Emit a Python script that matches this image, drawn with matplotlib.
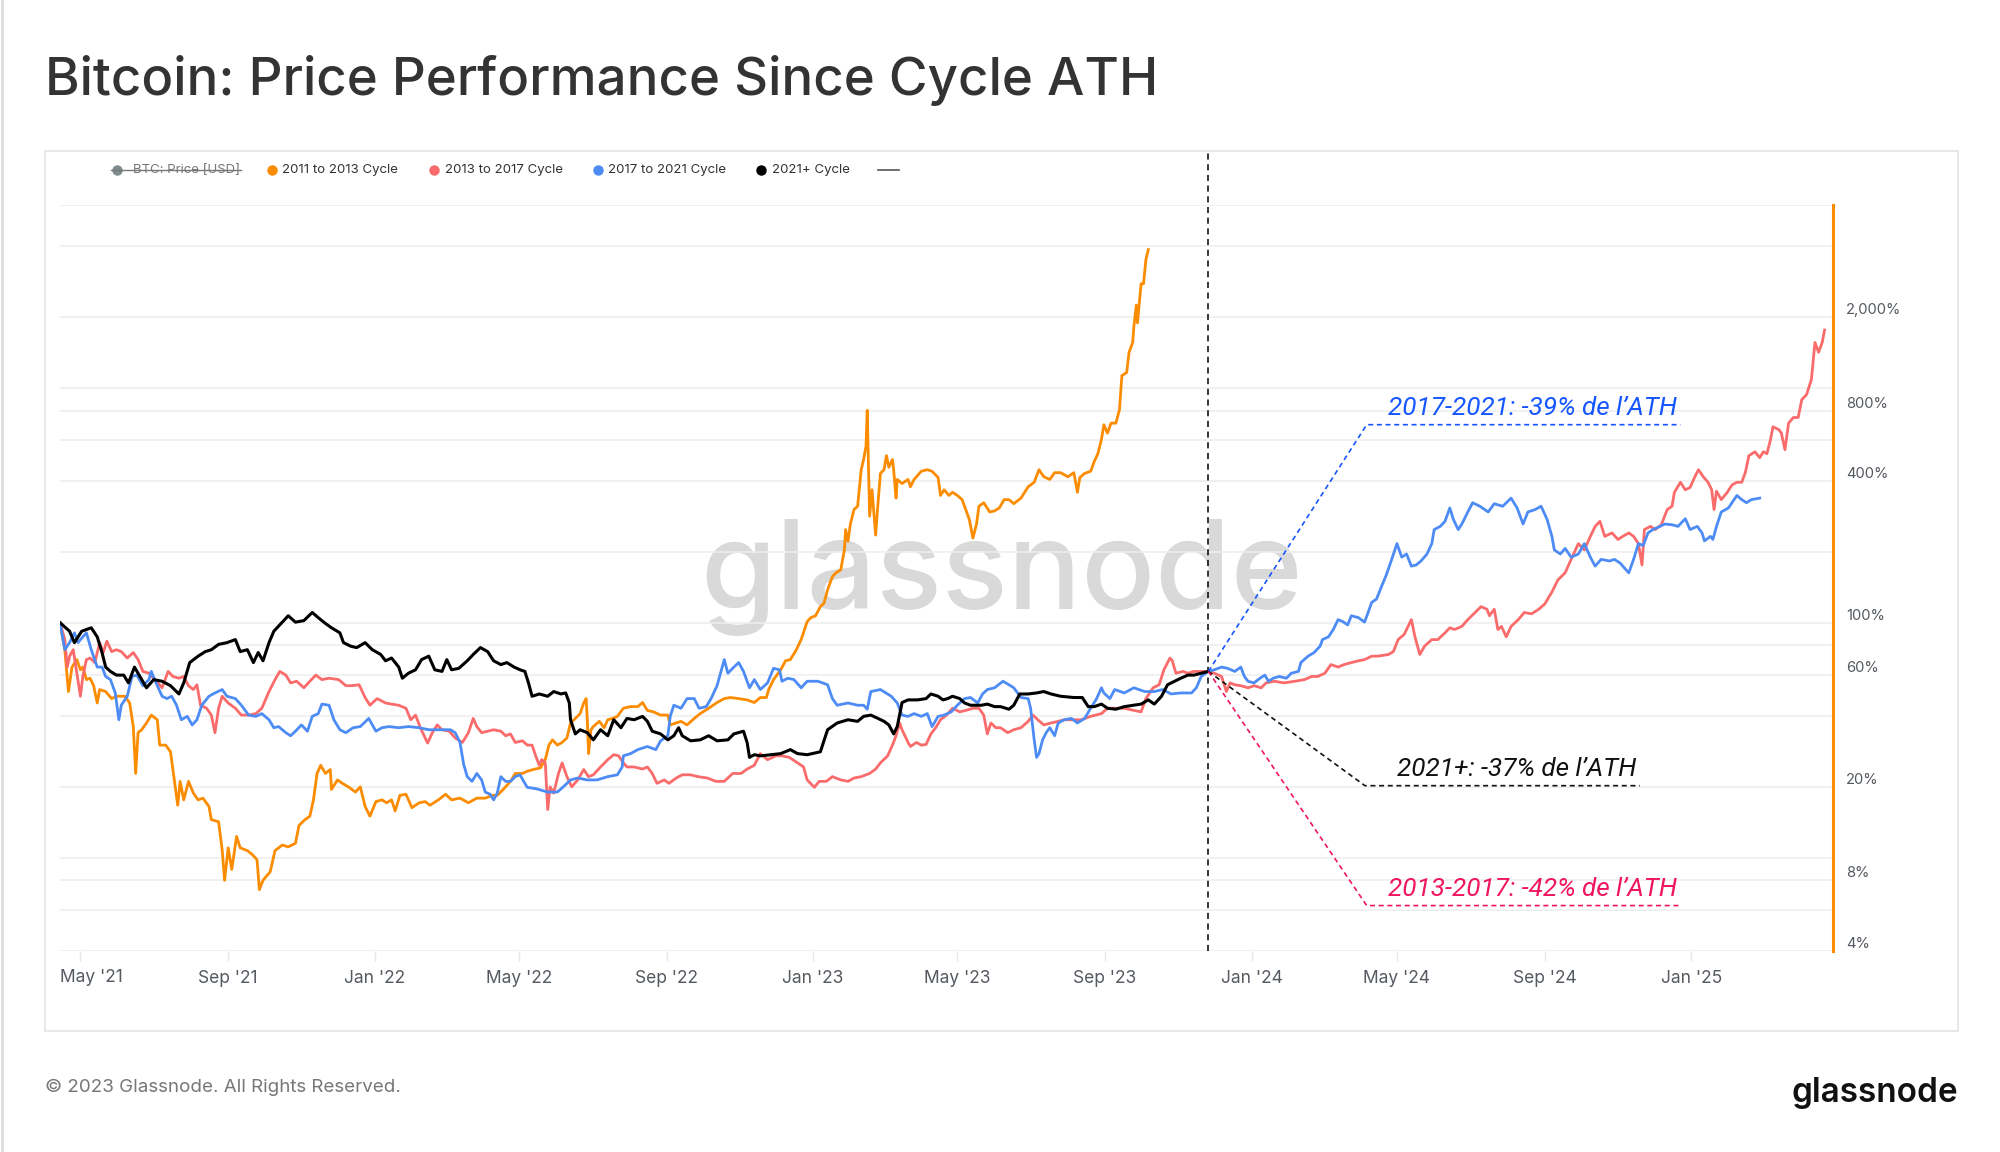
import matplotlib
matplotlib.use("Agg")
import matplotlib.pyplot as plt
import matplotlib.dates as mdates
from matplotlib.lines import Line2D
from matplotlib.patches import Rectangle
from datetime import datetime
import numpy as np

plt.rcParams['font.family'] = ['Inter', 'DejaVu Sans']

# ---- data: (days since cycle ATH, % of ATH) ----
ath_date = datetime(2021, 4, 14)

cycle_2011 = [
    (0, 100), (4, 76.7), (7, 50.9), (10, 64.7), (14, 69.6), (17, 63.0), (19, 64.7), (22, 57.2),
    (25, 58.0), (28, 53.9), (31, 45.5), (33, 51.9), (38, 50.9), (43, 47.5), (47, 48.6), (54, 48.6),
    (58, 45.5), (61, 36.1), (63, 22.8), (65, 34.0), (68, 35.0), (72, 37.4), (76, 40.4), (81, 38.6),
    (83, 30.1), (88, 30.1), (92, 28.2), (94, 23.7), (98, 16.7), (100, 21.1), (103, 17.6), (107, 21.1),
    (111, 18.8), (115, 17.6), (119, 17.9), (124, 16.5), (126, 14.5), (132, 14.2), (135, 10.8),
    (137, 8.0), (140, 11.0), (143, 8.9), (147, 12.3), (150, 11.0), (156, 10.7), (160, 10.3),
    (164, 9.8), (166, 7.3), (169, 8.0), (175, 8.7), (179, 10.7), (185, 11.3), (190, 11.1),
    (196, 11.5), (199, 13.7), (204, 14.5), (208, 15.0), (211, 17.6), (214, 22.8), (217, 24.7),
    (221, 22.8), (225, 23.7), (226, 19.5), (231, 21.4), (235, 20.7), (240, 20.0), (246, 19.0),
    (250, 20.0), (254, 16.5), (258, 15.0), (263, 17.3), (268, 17.6), (272, 17.1), (276, 17.6),
    (279, 15.8), (283, 18.4), (288, 18.6), (293, 16.3), (299, 17.1), (304, 17.3), (308, 16.7),
    (315, 17.6), (321, 18.6), (326, 17.6), (333, 17.9), (340, 17.1), (347, 17.9), (354, 17.9),
    (360, 18.4), (364, 18.4), (369, 19.5), (375, 21.1), (379, 22.8), (385, 22.8), (389, 23.3),
    (394, 23.7), (400, 24.1), (404, 26.1), (407, 30.1), (410, 31.7), (414, 30.1), (418, 30.9),
    (422, 32.3), (425, 37.4), (429, 39.1), (433, 41.0), (436, 45.5), (438, 47.5), (439, 38.6),
    (440, 27.7), (442, 35.0), (444, 36.1), (449, 38.0), (453, 35.7), (456, 38.6), (460, 39.1),
    (464, 39.9), (469, 43.2), (475, 43.9), (481, 43.9), (485, 45.7), (489, 42.3), (494, 41.7),
    (500, 40.4), (506, 40.4), (508, 36.7), (513, 37.4), (517, 38.0), (522, 36.7), (528, 39.1),
    (533, 41.0), (540, 43.2), (547, 45.7), (553, 47.5), (558, 48.0), (565, 47.5), (572, 46.9),
    (578, 45.7), (583, 48.0), (588, 48.0), (590, 51.9), (594, 57.2), (600, 63.0), (604, 68.8),
    (608, 69.6), (613, 76.7), (617, 84.7), (622, 101), (625, 105), (629, 107), (633, 117),
    (636, 121), (639, 138), (643, 157), (646, 163), (650, 168), (653, 204), (654, 249), (656, 222),
    (658, 263), (661, 303), (664, 313), (667, 448), (669, 495), (671, 565), (672, 801), (674, 284),
    (676, 368), (679, 236), (681, 324), (683, 432), (686, 448), (688, 514), (690, 459), (693, 495),
    (694, 448), (696, 339), (697, 407), (701, 391), (706, 407), (708, 379), (711, 407), (717, 441),
    (722, 448), (726, 441), (731, 415), (733, 348), (736, 368), (740, 348), (743, 359), (747, 348),
    (751, 334), (754, 303), (757, 275), (760, 229), (763, 263), (765, 313), (769, 324), (774, 296),
    (778, 299), (782, 308), (786, 334), (790, 334), (794, 321), (800, 339), (806, 379), (811, 396),
    (815, 448), (819, 418), (824, 407), (828, 435), (833, 435), (839, 418), (844, 435), (847, 359),
    (849, 415), (853, 432), (858, 441), (861, 485), (864, 524), (867, 602), (869, 696), (872, 641),
    (875, 707), (879, 707), (882, 807), (884, 1126), (888, 1162), (890, 1416), (893, 1559),
    (894, 1824), (896, 2250), (897, 1889), (899, 2442), (900, 2772), (902, 2772), (904, 3513),
    (906, 3875),
]

cycle_2013 = [
    (0, 100), (4, 84.7), (6, 64.7), (8, 72.0), (11, 76.7), (14, 60.9), (17, 48.6), (19, 59.0),
    (22, 69.6), (25, 70.7), (29, 67.6), (33, 82.2), (36, 74.6), (39, 83.4), (43, 75.3), (47, 76.7),
    (51, 75.3), (56, 70.7), (61, 74.6), (65, 69.6), (69, 62.0), (74, 60.9), (79, 57.2), (85, 52.8),
    (90, 62.0), (94, 59.0), (99, 58.0), (103, 59.0), (107, 53.9), (111, 51.9), (114, 54.4),
    (117, 44.5), (122, 43.2), (126, 40.4), (129, 34.0), (132, 43.2), (135, 48.6), (140, 45.5),
    (146, 43.2), (151, 40.4), (157, 40.4), (163, 41.0), (168, 43.2), (174, 50.9), (179, 57.2),
    (183, 62.0), (188, 59.8), (192, 55.4), (197, 56.3), (203, 52.8), (208, 56.3), (213, 59.8),
    (218, 57.2), (224, 58.0), (232, 57.2), (238, 53.9), (243, 53.9), (249, 54.4), (254, 48.0),
    (258, 44.5), (264, 47.5), (271, 45.5), (276, 45.0), (282, 44.5), (288, 43.2), (292, 38.6),
    (296, 40.4), (300, 35.7), (306, 30.7), (310, 34.0), (314, 36.7), (318, 35.0), (324, 34.5),
    (329, 32.3), (335, 30.9), (340, 34.0), (344, 39.1), (347, 36.1), (351, 34.0), (356, 34.5),
    (361, 35.0), (367, 34.5), (371, 33.0), (375, 33.6), (379, 30.9), (385, 31.4), (389, 30.1),
    (393, 30.1), (396, 27.1), (399, 24.7), (401, 26.1), (404, 25.3), (406, 16.0), (408, 20.0),
    (411, 18.8), (415, 22.8), (418, 25.3), (422, 22.1), (426, 20.0), (431, 21.4), (436, 23.7),
    (440, 22.1), (444, 22.5), (450, 24.3), (456, 26.1), (461, 27.4), (465, 27.1), (469, 25.3),
    (472, 24.3), (478, 24.3), (485, 23.8), (489, 24.3), (493, 22.8), (497, 20.7), (503, 21.4),
    (507, 20.7), (513, 21.8), (518, 22.5), (525, 22.5), (531, 22.1), (539, 21.8), (546, 21.1),
    (553, 21.1), (560, 22.8), (567, 22.8), (572, 23.8), (578, 24.7), (583, 27.7), (589, 26.1),
    (596, 27.1), (601, 27.1), (607, 26.7), (614, 25.3), (619, 24.3), (622, 21.4), (628, 19.9),
    (632, 21.1), (638, 21.1), (643, 22.1), (650, 21.4), (656, 21.1), (661, 21.8), (667, 22.1),
    (674, 22.8), (679, 23.8), (683, 25.3), (689, 27.1), (693, 30.1), (696, 33.0), (699, 37.4),
    (701, 35.0), (706, 30.9), (708, 29.7), (713, 30.9), (717, 30.1), (721, 30.3), (725, 33.6),
    (729, 35.7), (733, 38.6), (738, 40.4), (743, 43.2), (749, 41.7), (754, 42.3), (760, 43.2),
    (765, 43.2), (769, 40.4), (772, 33.6), (775, 37.4), (779, 35.7), (783, 35.7), (789, 34.0),
    (794, 35.0), (800, 35.7), (806, 38.0), (810, 40.4), (814, 38.6), (819, 36.7), (825, 37.4),
    (831, 38.0), (836, 38.6), (842, 38.6), (850, 38.6), (858, 39.9), (867, 41.0), (872, 43.2),
    (878, 43.2), (886, 43.2), (894, 42.3), (900, 41.7), (904, 47.5), (910, 52.8), (915, 54.4),
    (919, 63.0), (924, 70.7), (926, 68.8), (929, 60.9), (935, 62.0), (939, 60.9), (944, 62.0),
    (950, 62.0), (956, 62.0), (961, 60.9), (967, 59.0), (971, 50.9), (974, 55.4), (978, 54.4),
    (983, 53.9), (989, 52.8), (994, 53.9), (1000, 52.8), (1004, 55.4), (1011, 56.3), (1019, 55.4),
    (1028, 56.3), (1036, 57.2), (1042, 59.0), (1047, 59.0), (1053, 60.9), (1058, 66.3),
    (1064, 64.7), (1069, 66.3), (1075, 67.6), (1081, 68.8), (1086, 69.6), (1092, 72.0),
    (1097, 72.0), (1106, 73.2), (1110, 75.3), (1114, 84.7), (1119, 89.1), (1125, 103), (1128, 87.0),
    (1132, 73.2), (1136, 79.4), (1142, 84.7), (1147, 84.7), (1153, 90.5), (1157, 95.1), (1161, 93.5),
    (1167, 96.4), (1172, 103), (1178, 110.5), (1183, 117), (1188, 114), (1190, 107), (1194, 114),
    (1197, 93.5), (1200, 96.4), (1204, 87.0), (1208, 96.4), (1214, 103), (1219, 110.5), (1225, 109),
    (1231, 114), (1236, 120), (1242, 135), (1247, 152), (1253, 163), (1258, 186), (1264, 217),
    (1269, 204), (1274, 233), (1278, 257), (1282, 270), (1286, 233), (1292, 241), (1297, 226),
    (1301, 233), (1306, 241), (1310, 233), (1314, 217), (1317, 176), (1319, 249), (1324, 257),
    (1328, 249), (1333, 261), (1338, 303), (1342, 313), (1344, 359), (1349, 396), (1353, 368),
    (1357, 376), (1361, 418), (1364, 448), (1368, 418), (1372, 396), (1375, 368), (1377, 303),
    (1379, 363), (1383, 334), (1388, 359), (1392, 386), (1396, 396), (1400, 396), (1403, 435),
    (1406, 514), (1411, 534), (1415, 504), (1418, 534), (1421, 524), (1424, 602), (1426, 682),
    (1431, 663), (1433, 641), (1436, 545), (1439, 707), (1443, 747), (1447, 747), (1450, 890),
    (1454, 935), (1458, 1084), (1461, 1559), (1464, 1416), (1467, 1559), (1469, 1761),
]

cycle_2017 = [
    (0, 100), (4, 76.7), (8, 82.2), (12, 90.5), (15, 82.2), (19, 87.0), (22, 90.5), (26, 76.7),
    (31, 64.7), (35, 64.7), (38, 59.0), (42, 57.2), (46, 50.2), (49, 38.6), (51, 44.5), (56, 48.6),
    (60, 59.0), (64, 59.8), (69, 53.9), (74, 57.2), (76, 62.0), (81, 53.9), (85, 48.6), (89, 47.5),
    (93, 48.6), (97, 44.5), (101, 38.6), (106, 39.9), (110, 36.7), (114, 38.6), (118, 44.5),
    (124, 48.6), (129, 50.2), (135, 51.9), (139, 48.6), (146, 47.5), (151, 44.5), (157, 40.4),
    (163, 39.9), (168, 41.0), (174, 38.6), (178, 35.7), (182, 36.1), (188, 34.0), (192, 33.0),
    (196, 34.5), (201, 36.7), (206, 34.5), (210, 39.9), (215, 41.0), (218, 45.0), (224, 44.5),
    (228, 38.6), (233, 35.0), (238, 34.0), (244, 35.7), (250, 36.1), (257, 39.1), (263, 34.5),
    (268, 35.7), (274, 36.1), (282, 35.7), (290, 36.1), (299, 35.7), (307, 35.0), (315, 35.0),
    (325, 35.0), (329, 34.0), (333, 30.9), (336, 25.0), (339, 22.1), (343, 21.1), (347, 22.8),
    (351, 21.4), (354, 19.0), (358, 18.6), (361, 17.6), (364, 18.8), (367, 22.1), (371, 21.1),
    (375, 21.1), (379, 22.1), (383, 22.5), (386, 21.1), (389, 19.9), (397, 19.6), (406, 19.0),
    (414, 19.0), (419, 20.0), (425, 21.4), (431, 21.8), (439, 21.4), (447, 21.4), (456, 22.1),
    (464, 22.5), (468, 24.3), (469, 27.1), (475, 27.7), (481, 28.8), (489, 29.7), (496, 28.8),
    (500, 31.4), (506, 33.0), (508, 39.9), (511, 44.5), (517, 43.2), (522, 47.5), (528, 47.5),
    (532, 43.2), (538, 43.9), (542, 47.5), (547, 53.9), (553, 69.6), (556, 60.9), (561, 64.7),
    (565, 67.6), (569, 62.0), (574, 52.8), (578, 57.2), (583, 51.9), (589, 55.4), (594, 63.9),
    (599, 63.0), (601, 56.3), (606, 58.0), (611, 57.2), (617, 52.8), (622, 56.3), (631, 56.3),
    (639, 54.4), (643, 47.5), (647, 44.5), (656, 45.5), (664, 44.5), (669, 44.5), (672, 42.8),
    (675, 50.9), (683, 51.9), (692, 48.6), (697, 45.5), (701, 40.4), (706, 39.9), (711, 41.0),
    (717, 39.9), (722, 41.0), (726, 36.1), (731, 39.9), (736, 40.4), (742, 41.7), (747, 44.5),
    (753, 47.5), (758, 48.0), (764, 45.5), (768, 49.7), (772, 51.9), (778, 52.8), (785, 56.3),
    (790, 54.4), (794, 52.8), (800, 48.0), (806, 47.5), (808, 43.2), (811, 31.7), (813, 26.7),
    (815, 27.7), (818, 31.7), (821, 34.0), (824, 35.7), (828, 33.0), (831, 37.4), (836, 38.6),
    (842, 39.1), (847, 37.4), (853, 39.1), (858, 43.2), (863, 47.5), (867, 52.8), (869, 50.2),
    (874, 47.5), (878, 51.9), (886, 50.2), (894, 52.8), (903, 50.9), (911, 50.9), (918, 51.9),
    (925, 49.7), (933, 50.2), (942, 50.2), (946, 52.8), (950, 59.0), (956, 62.0), (961, 63.0),
    (967, 64.7), (972, 63.9), (978, 62.0), (983, 64.7), (986, 59.0), (989, 56.3), (994, 55.4),
    (999, 58.0), (1003, 59.8), (1006, 56.3), (1010, 58.0), (1015, 59.0), (1021, 58.0), (1025, 60.9),
    (1031, 62.0), (1033, 67.6), (1039, 72.0), (1044, 74.6), (1049, 79.4), (1051, 84.7), (1056, 87.0),
    (1060, 93.5), (1064, 103), (1068, 101), (1072, 97.8), (1075, 107), (1081, 105), (1086, 100.5),
    (1089, 110.5), (1092, 122), (1096, 126), (1100, 142), (1104, 159), (1108, 182), (1113, 217),
    (1117, 190), (1121, 196), (1125, 174), (1129, 176), (1133, 183), (1138, 196), (1142, 217),
    (1144, 249), (1149, 257), (1153, 270), (1157, 308), (1160, 275), (1164, 249), (1167, 263),
    (1172, 296), (1176, 324), (1182, 313), (1189, 296), (1194, 321), (1201, 313), (1208, 339),
    (1213, 308), (1218, 263), (1222, 296), (1228, 303), (1233, 313), (1238, 275), (1242, 233),
    (1244, 204), (1249, 196), (1253, 207), (1258, 190), (1264, 196), (1269, 217), (1274, 190),
    (1278, 174), (1283, 186), (1290, 183), (1294, 186), (1299, 179), (1301, 174), (1306, 163),
    (1310, 186), (1314, 217), (1318, 213), (1322, 241), (1326, 249), (1332, 257), (1336, 263),
    (1342, 261), (1347, 257), (1353, 277), (1357, 249), (1363, 257), (1367, 241), (1369, 223),
    (1374, 233), (1376, 226), (1379, 257), (1383, 296), (1389, 308), (1396, 348), (1400, 334),
    (1404, 324), (1408, 334), (1415, 339),
]

cycle_2021 = [
    (0, 100), (8, 91.9), (12, 82.2), (18, 91.9), (26, 95.1), (31, 87.0), (35, 74.6), (38, 64.7),
    (42, 62.0), (47, 59.8), (53, 59.8), (57, 55.4), (62, 64.7), (68, 57.2), (72, 52.8), (78, 57.2),
    (85, 56.3), (92, 53.9), (99, 49.7), (103, 55.4), (108, 67.6), (115, 72.0), (121, 75.3),
    (126, 76.7), (132, 80.8), (139, 82.2), (146, 84.7), (150, 75.3), (156, 76.7), (161, 67.6),
    (165, 74.6), (169, 68.8), (174, 82.2), (178, 91.9), (185, 100.5), (190, 107), (196, 100.5),
    (203, 102), (210, 110.5), (215, 105), (221, 99.2), (226, 95.1), (233, 90.5), (236, 82.2),
    (242, 79.4), (247, 78.3), (254, 82.2), (260, 76.7), (267, 73.2), (271, 68.8), (276, 70.7),
    (282, 64.7), (285, 58.0), (290, 60.9), (296, 63.0), (301, 69.6), (307, 72.0), (312, 63.0),
    (318, 62.0), (322, 69.6), (326, 63.0), (332, 63.9), (339, 68.8), (344, 73.2), (350, 78.3),
    (356, 75.3), (361, 68.8), (367, 66.3), (372, 67.6), (378, 64.7), (383, 63.0), (387, 62.0),
    (390, 55.4), (393, 48.6), (399, 49.7), (406, 48.6), (411, 50.9), (417, 49.7), (421, 50.2),
    (424, 45.5), (425, 38.6), (429, 33.6), (433, 35.0), (439, 34.0), (444, 31.7), (450, 35.0),
    (456, 33.0), (461, 38.6), (467, 35.7), (472, 39.1), (478, 38.6), (485, 39.9), (489, 38.0),
    (493, 34.5), (500, 33.6), (506, 31.7), (511, 33.0), (515, 35.7), (518, 33.0), (525, 31.4),
    (533, 31.7), (540, 33.0), (547, 31.4), (556, 31.7), (561, 33.6), (569, 34.5), (572, 30.9),
    (574, 26.7), (578, 27.4), (583, 27.1), (592, 27.4), (600, 27.7), (608, 28.8), (614, 27.7),
    (622, 27.4), (633, 28.2), (639, 35.0), (647, 37.4), (656, 38.6), (664, 38.0), (669, 39.9),
    (675, 40.4), (681, 39.1), (686, 38.0), (690, 36.7), (694, 33.6), (697, 36.1), (701, 45.7),
    (706, 46.9), (714, 46.9), (721, 47.5), (725, 49.7), (731, 48.6), (735, 46.9), (739, 47.5),
    (743, 48.6), (749, 47.5), (753, 45.5), (758, 44.5), (767, 44.5), (772, 45.0), (778, 43.9),
    (783, 43.9), (790, 42.8), (794, 44.5), (799, 49.7), (806, 49.7), (813, 50.2), (819, 50.9),
    (825, 49.7), (833, 48.6), (844, 48.0), (851, 48.0), (856, 43.9), (861, 43.9), (867, 45.0),
    (872, 43.2), (879, 42.8), (886, 43.9), (894, 44.5), (900, 45.0), (906, 46.9), (911, 45.0),
    (917, 48.6), (922, 54.4), (928, 56.3), (933, 58.0), (939, 59.8), (944, 59.8), (950, 60.9),
    (956, 62.0),
]

series_names = ['2011 to 2013 Cycle', '2013 to 2017 Cycle', '2017 to 2021 Cycle', '2021+ Cycle']
series_colors = ['#fb8c00', '#fa6b6b', '#4d8bf5', '#000000']

# axis labels / grid levels (% of ATH)
grid_levels = [4, 6, 8, 10, 20, 40, 60, 80, 100, 200, 400, 600, 800, 1000, 2000, 4000, 6000]
label_levels = [4, 8, 20, 60, 100, 400, 800, 2000]

# annotations: (text, colour, elbow axes-x, elbow axes-y, end axes-x)
notes = [
    ("2017-2021: -39% de l\u2019ATH", '#1556ff', 0.737, 0.7055, 0.914),
    ("2021+: -37% de l\u2019ATH", '#111111', 0.736, 0.2216, 0.891),
    ("2013-2017: -42% de l\u2019ATH", '#ef1560', 0.737, 0.0609, 0.914),
]

W, H = 2000, 1152


def fx(px):
    return px / W


def fy(py):
    return 1 - py / H


fig = plt.figure(figsize=(20, 11.52), dpi=100)
fig.patch.set_facecolor('white')

# outer chart box + left page edge
fig.add_artist(Rectangle((fx(45), fy(1031)), fx(1958) - fx(45), fy(151) - fy(1031),
                         transform=fig.transFigure, fill=False, edgecolor='#e4e4e4', lw=1.2))
fig.add_artist(Line2D([0.0008, 0.0008], [0, 1], transform=fig.transFigure, color='#dddddd', lw=2))

ax = fig.add_axes([fx(60), fy(951), fx(1833) - fx(60), fy(205) - fy(951)])
ax.set_facecolor('none')

start = mdates.date2num(ath_date)
all_series = [cycle_2011, cycle_2013, cycle_2017, cycle_2021]
for data, col, name in zip(all_series, series_colors, series_names):
    days, vals = zip(*data)
    lw = 2.2 if col == '#000000' else 2.0
    ax.plot(start + np.array(days), vals, color=col, lw=lw, label=name, zorder=3,
            solid_joinstyle='round')

ax.set_yscale('log')
ax.set_ylim(4, 6000)
ax.set_xlim(start, start + 1476)
ax.set_yticks(grid_levels)
ax.yaxis.set_minor_locator(matplotlib.ticker.NullLocator())
ax.grid(axis='y', color='#eeeeee', lw=1.1, zorder=0)
ax.tick_params(axis='y', length=0, labelleft=False)
for s in ax.spines.values():
    s.set_visible(False)

ax.xaxis_date()
ax.xaxis.set_major_locator(mdates.MonthLocator(bymonth=(1, 5, 9)))
ax.xaxis.set_major_formatter(mdates.DateFormatter("%b '%y"))
ax.tick_params(axis='x', length=7, width=1, color='#e6e6e6', pad=6.5,
               labelsize=12.5, labelcolor='#555a60')

# right axis: orange line and labels sitting above their grid levels
ax.add_line(Line2D([1.0, 1.0], [0, 1], transform=ax.transAxes, color='#fb8c00',
                   lw=2.2, clip_on=False))
lab_tr = matplotlib.transforms.blended_transform_factory(ax.transAxes, ax.transData)
lab_off = matplotlib.transforms.ScaledTranslation(0, 3 / 100, fig.dpi_scale_trans)
for v in label_levels:
    ax.text(1.0073, v, f"{v:,}%", transform=lab_tr + lab_off,
            ha='left', va='baseline', fontsize=10.6, color='#555a60')

# watermark
ax.text(0.531, 0.50, 'glassnode', transform=ax.transAxes, ha='center', va='center',
        fontsize=88, fontweight='medium', color='#d9d9d9', zorder=1)

# "today" line, from the last point of the current cycle
last_day, last_val = cycle_2021[-1]
ax.axvline(start + last_day, ymin=0, ymax=(951 - 151) / 746, color='black', lw=1.1,
           ls=(0, (4, 3)), clip_on=False, zorder=4)

fig.canvas.draw()
# first date label sits flush with the plot's left edge
for lab in ax.get_xticklabels():
    if lab.get_text() == "May '21":
        lab.set_visible(False)
        ax.text(0.0, -26 / 746, "May '21", transform=ax.transAxes, ha='left', va='center',
                fontsize=12.5, color='#555a60')

p0 = ax.transAxes.inverted().transform(ax.transData.transform((start + last_day, last_val)))
for txt, col, ex, ey, endx in notes:
    ax.plot([p0[0], ex, endx], [p0[1], ey, ey], transform=ax.transAxes, color=col, lw=1.2,
            ls=(0, (3, 2.2)), zorder=5, clip_on=False)
    ax.text(endx - 0.002, ey + 0.006, txt, transform=ax.transAxes, ha='right', va='bottom',
            fontsize=18.8, fontstyle='italic', color=col, family=['Roboto', 'DejaVu Sans'])

# title
fig.text(fx(45), fy(81), 'Bitcoin: Price Performance Since Cycle ATH', ha='left', va='center',
         fontsize=38, fontweight='medium', color='#333333')

# legend (drawn by hand, glassnode style)
leg_y = fy(170)
fig.add_artist(Line2D([fx(117)], [leg_y], marker='o', ms=6.5, color='#7f8c8d', transform=fig.transFigure))
fig.text(fx(133), leg_y, 'BTC: Price [USD]', ha='left', va='center', fontsize=9.5, color='#777777')
fig.add_artist(Line2D([fx(111), fx(241)], [leg_y, leg_y], color='#777777', lw=1, transform=fig.transFigure))
leg_x = [(272, 282), (434, 445), (598, 608), (761, 772)]
for (dx, tx), col, name in zip(leg_x, series_colors, series_names):
    fig.add_artist(Line2D([fx(dx)], [leg_y], marker='o', ms=6.5, color=col, transform=fig.transFigure))
    fig.text(fx(tx), leg_y, name, ha='left', va='center', fontsize=9.5, color='#333333')
fig.add_artist(Line2D([fx(878), fx(899)], [leg_y, leg_y], color='#555555', lw=1.2, transform=fig.transFigure))

# footer
fig.text(fx(45), fy(1087), '\u00a9 2023 Glassnode. All Rights Reserved.', ha='left', va='center',
         fontsize=13.5, color='#777777')
fig.text(fx(1958), fy(1102), 'glassnode', ha='right', va='baseline', fontsize=24,
         fontweight='semibold', color='#111111')

fig.savefig('out.png', dpi=100, facecolor='white')
